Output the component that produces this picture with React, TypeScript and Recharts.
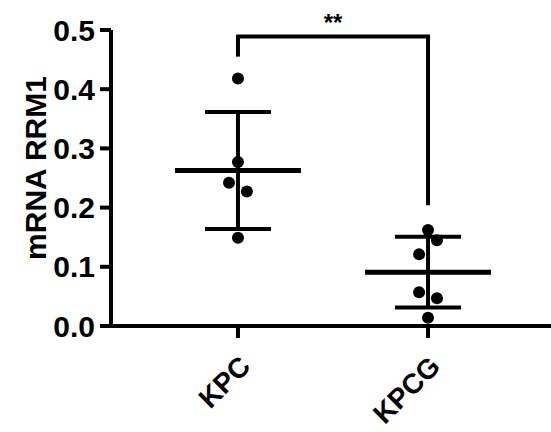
import { ScatterChart, Scatter, XAxis, YAxis, ErrorBar, ReferenceLine } from "recharts";

const groups = ["KPC", "KPCG"];
const kpcValues = [0.418, 0.277, 0.242, 0.227, 0.149];
const kpcgValues = [0.162, 0.145, 0.121, 0.057, 0.047, 0.014];
// horizontal lane of each dot (-1 left, 0 centre, 1 right), as in the dot plot
const kpcLanes = [0, 0, -1, 1, 0];
const kpcgLanes = [0, 1, -1, -1, 1, 0];
const yTicks = [0, 0.1, 0.2, 0.3, 0.4, 0.5];
const bracketY = 0.489;
const bracketLeftEnd = 0.455;
const bracketRightEnd = 0.204;

const FONT = "'Liberation Sans', Arial, sans-serif";
const LANE = 0.047;

function mean(v: number[]) {
  return v.reduce((a, b) => a + b, 0) / v.length;
}
function sd(v: number[]) {
  const m = mean(v);
  return Math.sqrt(v.reduce((a, b) => a + (b - m) * (b - m), 0) / (v.length - 1));
}

const points = [
  ...kpcValues.map((y, i) => ({ x: 1 + kpcLanes[i] * LANE, y })),
  ...kpcgValues.map((y, i) => ({ x: 2 + kpcgLanes[i] * LANE, y })),
];

const summary = [
  { x: 1, y: mean(kpcValues), err: sd(kpcValues) },
  { x: 2, y: mean(kpcgValues), err: sd(kpcgValues) },
];

function MeanLine(props: any) {
  const { cx, cy } = props;
  return <line x1={cx - 63} x2={cx + 63} y1={cy} y2={cy} stroke="#000" strokeWidth={5} />;
}

function Dot(props: any) {
  const { cx, cy } = props;
  return <circle cx={cx} cy={cy} r={6} fill="#000" />;
}

function XTick(props: any) {
  const { x, y, payload } = props;
  return (
    <g transform={`translate(${x + 14},${y + 28}) rotate(-45)`}>
      <text x={0} y={0} textAnchor="end" fontFamily={FONT} fontWeight="bold" fontSize={28} fill="#000">
        {groups[payload.value - 1]}
      </text>
    </g>
  );
}

function YLabel(props: any) {
  const { viewBox } = props;
  const cx = viewBox.x + 35;
  const cy = viewBox.y + viewBox.height / 2 - 10;
  return (
    <text x={cx} y={cy} transform={`rotate(-90 ${cx} ${cy})`} textAnchor="middle" dominantBaseline="central"
      fontFamily={FONT} fontWeight="bold" fontSize={30} fill="#000">
      mRNA RRM1
    </text>
  );
}

export default function App() {
  return (
    <div style={{ position: "absolute", left: 0, top: 0, background: "#fff" }}>
      <ScatterChart width={551} height={432} margin={{ top: 30, right: 0, bottom: 0, left: 0 }}>
        <XAxis type="number" dataKey="x" domain={[0.332, 2.647]} ticks={[1, 2]} height={106}
          axisLine={{ stroke: "#000", strokeWidth: 4 }} tickLine={{ stroke: "#000", strokeWidth: 4 }}
          tickSize={12} tick={<XTick />} interval={0} allowDataOverflow />
        <YAxis type="number" dataKey="y" domain={[0, 0.5]} ticks={yTicks} width={111}
          axisLine={{ stroke: "#000", strokeWidth: 4 }} tickLine={{ stroke: "#000", strokeWidth: 4 }}
          tickSize={11} tickMargin={5} tickFormatter={(v: number) => v.toFixed(1)}
          tick={{ fill: "#000", fontFamily: FONT, fontWeight: "bold", fontSize: 30 }}
          label={<YLabel />} />
        <ReferenceLine segment={[{ x: 1, y: bracketLeftEnd }, { x: 1, y: bracketY }]} stroke="#000" strokeWidth={4} />
        <ReferenceLine segment={[{ x: 2, y: bracketRightEnd }, { x: 2, y: bracketY }]} stroke="#000" strokeWidth={4} />
        <ReferenceLine segment={[{ x: 0.99, y: bracketY }, { x: 2.01, y: bracketY }]} stroke="#000" strokeWidth={4}
          label={{ value: "**", position: "top", offset: 6, fill: "#000", fontFamily: FONT, fontWeight: "bold", fontSize: 24 }} />
        <Scatter data={summary} shape={<MeanLine />} isAnimationActive={false}>
          <ErrorBar dataKey="err" direction="y" width={33} stroke="#000" strokeWidth={4} />
        </Scatter>
        <Scatter data={points} shape={<Dot />} isAnimationActive={false} />
      </ScatterChart>
    </div>
  );
}
